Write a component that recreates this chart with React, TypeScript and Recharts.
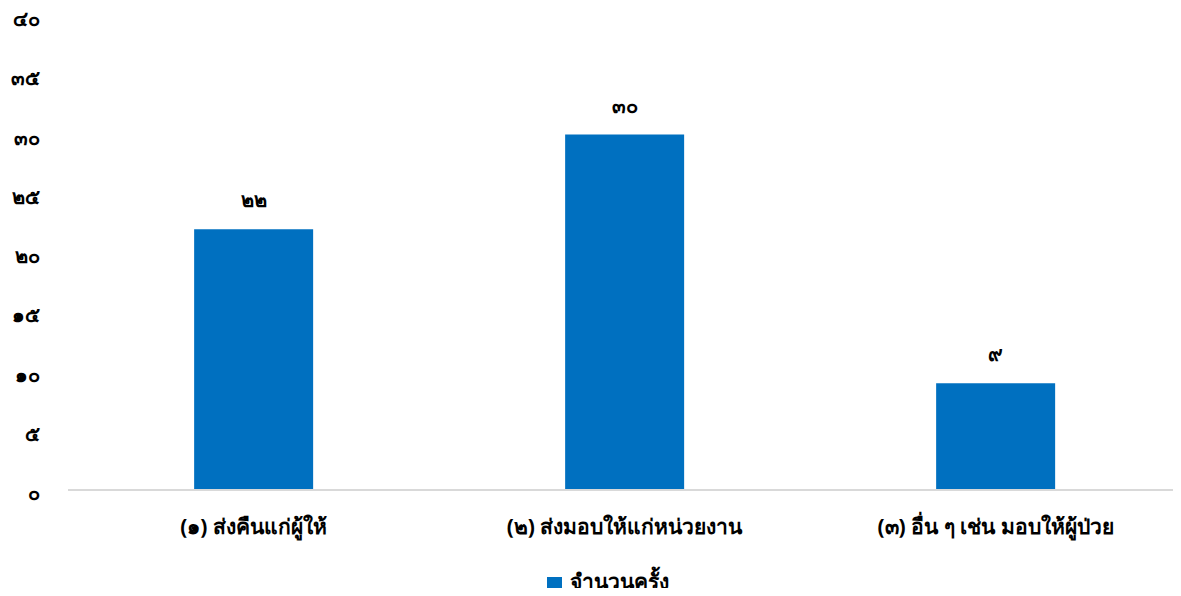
import { BarChart, Bar, XAxis, YAxis, Legend, LabelList } from "recharts";

const categories = ["(๑) ส่งคืนแก่ผู้ให้", "(๒) ส่งมอบให้แก่หน่วยงาน", "(๓) อื่น ๆ เช่น มอบให้ผู้ป่วย"];
const counts = [22, 30, 9];
const yTicks = [0, 5, 10, 15, 20, 25, 30, 35, 40];

const thaiDigits = ["๐", "๑", "๒", "๓", "๔", "๕", "๖", "๗", "๘", "๙"];
const toThai = (v: number | string) =>
  String(v).replace(/[0-9]/g, (d) => thaiDigits[Number(d)]);

const data = categories.map((name, i) => ({ name, value: counts[i] }));

const FONT = "Tahoma, 'Noto Sans', sans-serif";

export default function App() {
  return (
    <div style={{ margin: -8, width: 1181, height: 596, background: "#fff", fontFamily: FONT }}>
      <BarChart
        width={1181}
        height={596}
        data={data}
        margin={{ top: 16, right: 0, bottom: 5, left: 0 }}
        barCategoryGap="34%"
      >
        <XAxis
          dataKey="name"
          axisLine={{ stroke: "#D9D9D9", strokeWidth: 2 }}
          tickLine={false}
          tickMargin={23}
          height={68}
          tick={{ fill: "#000", fontSize: 21, fontWeight: 700, fontFamily: FONT }}
        />
        <YAxis
          domain={[0, 40]}
          ticks={yTicks}
          width={68}
          axisLine={false}
          tickLine={false}
          tickMargin={22}
          tickFormatter={toThai}
          tick={{ fill: "#000", fontSize: 20, fontWeight: 700, fontFamily: FONT, dy: 3 } as any}
        />
        <Legend
          verticalAlign="bottom"
          iconType="square"
          iconSize={15}
          wrapperStyle={{ bottom: -2, left: 22 }}
          formatter={(v) => (
            <span style={{ color: "#000", fontSize: 21, fontWeight: 700, fontFamily: FONT, paddingLeft: 4 }}>{v}</span>
          )}
        />
        <Bar dataKey="value" name="จำนวนครั้ง" fill="#0070C0" isAnimationActive={false}>
          <LabelList
            dataKey="value"
            position="top"
            offset={22}
            formatter={(v: any) => toThai(v)}
            style={{ fill: "#000", fontSize: 20, fontWeight: 700, fontFamily: FONT }}
          />
        </Bar>
      </BarChart>
    </div>
  );
}
